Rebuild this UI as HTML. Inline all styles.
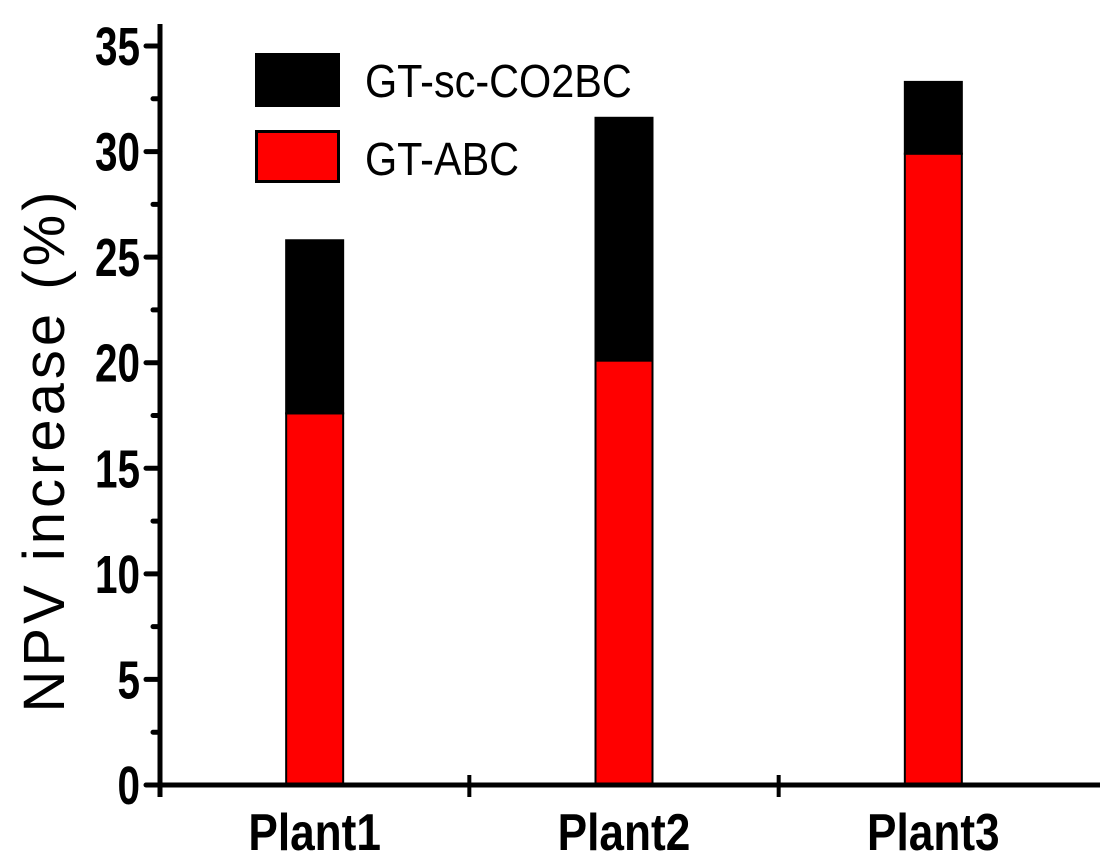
<!DOCTYPE html>
<html><head><style>
body{margin:0;background:#fff;}
svg{display:block;font-family:"Liberation Sans",sans-serif;}
</style></head><body>
<svg width="1105" height="868" id="c">
</svg>
<script>
const categories=["Plant1","Plant2","Plant3"];
const gtAbc=[17.6,20.1,29.9];
const gtSc=[8.2,11.5,3.4];
const yTicks=[0,5,10,15,20,25,30,35];
const svg=document.getElementById('c');
const NS='http://www.w3.org/2000/svg';
const x0=160,x1=1088,yBase=785,yTop=46,yMax=35;
const y=v=>yBase-(v/yMax)*(yBase-yTop);
const band=(x1-x0)/categories.length;
const xc=i=>x0+band*(i+0.5);
function el(t,a,txt){const e=document.createElementNS(NS,t);for(const k in a)e.setAttribute(k,a[k]);if(txt!==undefined)e.textContent=txt;svg.appendChild(e);return e;}
const bw=57;
categories.forEach((c,i)=>{
  let r=el('rect',{x:xc(i)-bw/2,y:y(gtAbc[i]),width:bw,height:yBase-y(gtAbc[i]),fill:'#ff0000',stroke:'#000','stroke-width':2});
  
  
  const tot=gtAbc[i]+gtSc[i];
  let b=el('rect',{x:xc(i)-bw/2,y:y(tot),width:bw,height:y(gtAbc[i])-y(tot),fill:'#000',stroke:'#000','stroke-width':2});
  
  
  let t=el('text',{x:xc(i),y:850,'text-anchor':'middle','font-size':52,'font-weight':'bold',transform:`translate(${xc(i)},0) scale(0.85,1) translate(${-xc(i)},0)`},c);
  
  
  if(i<categories.length-1){let tk=el('line',{x1:x0+band*(i+1),x2:x0+band*(i+1),y1:775,y2:797,stroke:'#000','stroke-width':4});
  }
});
let ax=el('line',{x1:x0,x2:x0,y1:24,y2:797,stroke:'#000','stroke-width':5});

let axx=el('line',{x1:x0-2,x2:1100,y1:yBase,y2:yBase,stroke:'#000','stroke-width':5});

yTicks.forEach(v=>{
  let l=el('line',{x1:x0-14,x2:x0,y1:y(v),y2:y(v),stroke:'#000','stroke-width':5,'stroke-linecap':'round'});
  
  if(v<35){let m=el('line',{x1:x0-7,x2:x0,y1:y(v+2.5),y2:y(v+2.5),stroke:'#000','stroke-width':5,'stroke-linecap':'round'});
  }
  let t=el('text',{x:140,y:y(v)+19,'text-anchor':'end','font-size':54,'font-weight':'bold',transform:`translate(140,0) scale(0.75,1) translate(-140,0)`},v);
  
});
let yt=el('text',{x:0,y:0,'text-anchor':'middle','font-size':58,'letter-spacing':4,transform:'translate(64,450) rotate(-90)'},'NPV increase (%)');

let lb=el('rect',{x:255,y:53,width:85,height:54,fill:'#000'});

let lr=el('rect',{x:256.5,y:131.5,width:82,height:50,fill:'#ff0000',stroke:'#000','stroke-width':3});

let l1=el('text',{x:365,y:97,'font-size':46,transform:'translate(365,0) scale(0.9,1) translate(-365,0)'},'GT-sc-CO2BC');

let l2=el('text',{x:365,y:175,'font-size':46,transform:'translate(365,0) scale(0.9,1) translate(-365,0)'},'GT-ABC');

</script>
</body></html>
